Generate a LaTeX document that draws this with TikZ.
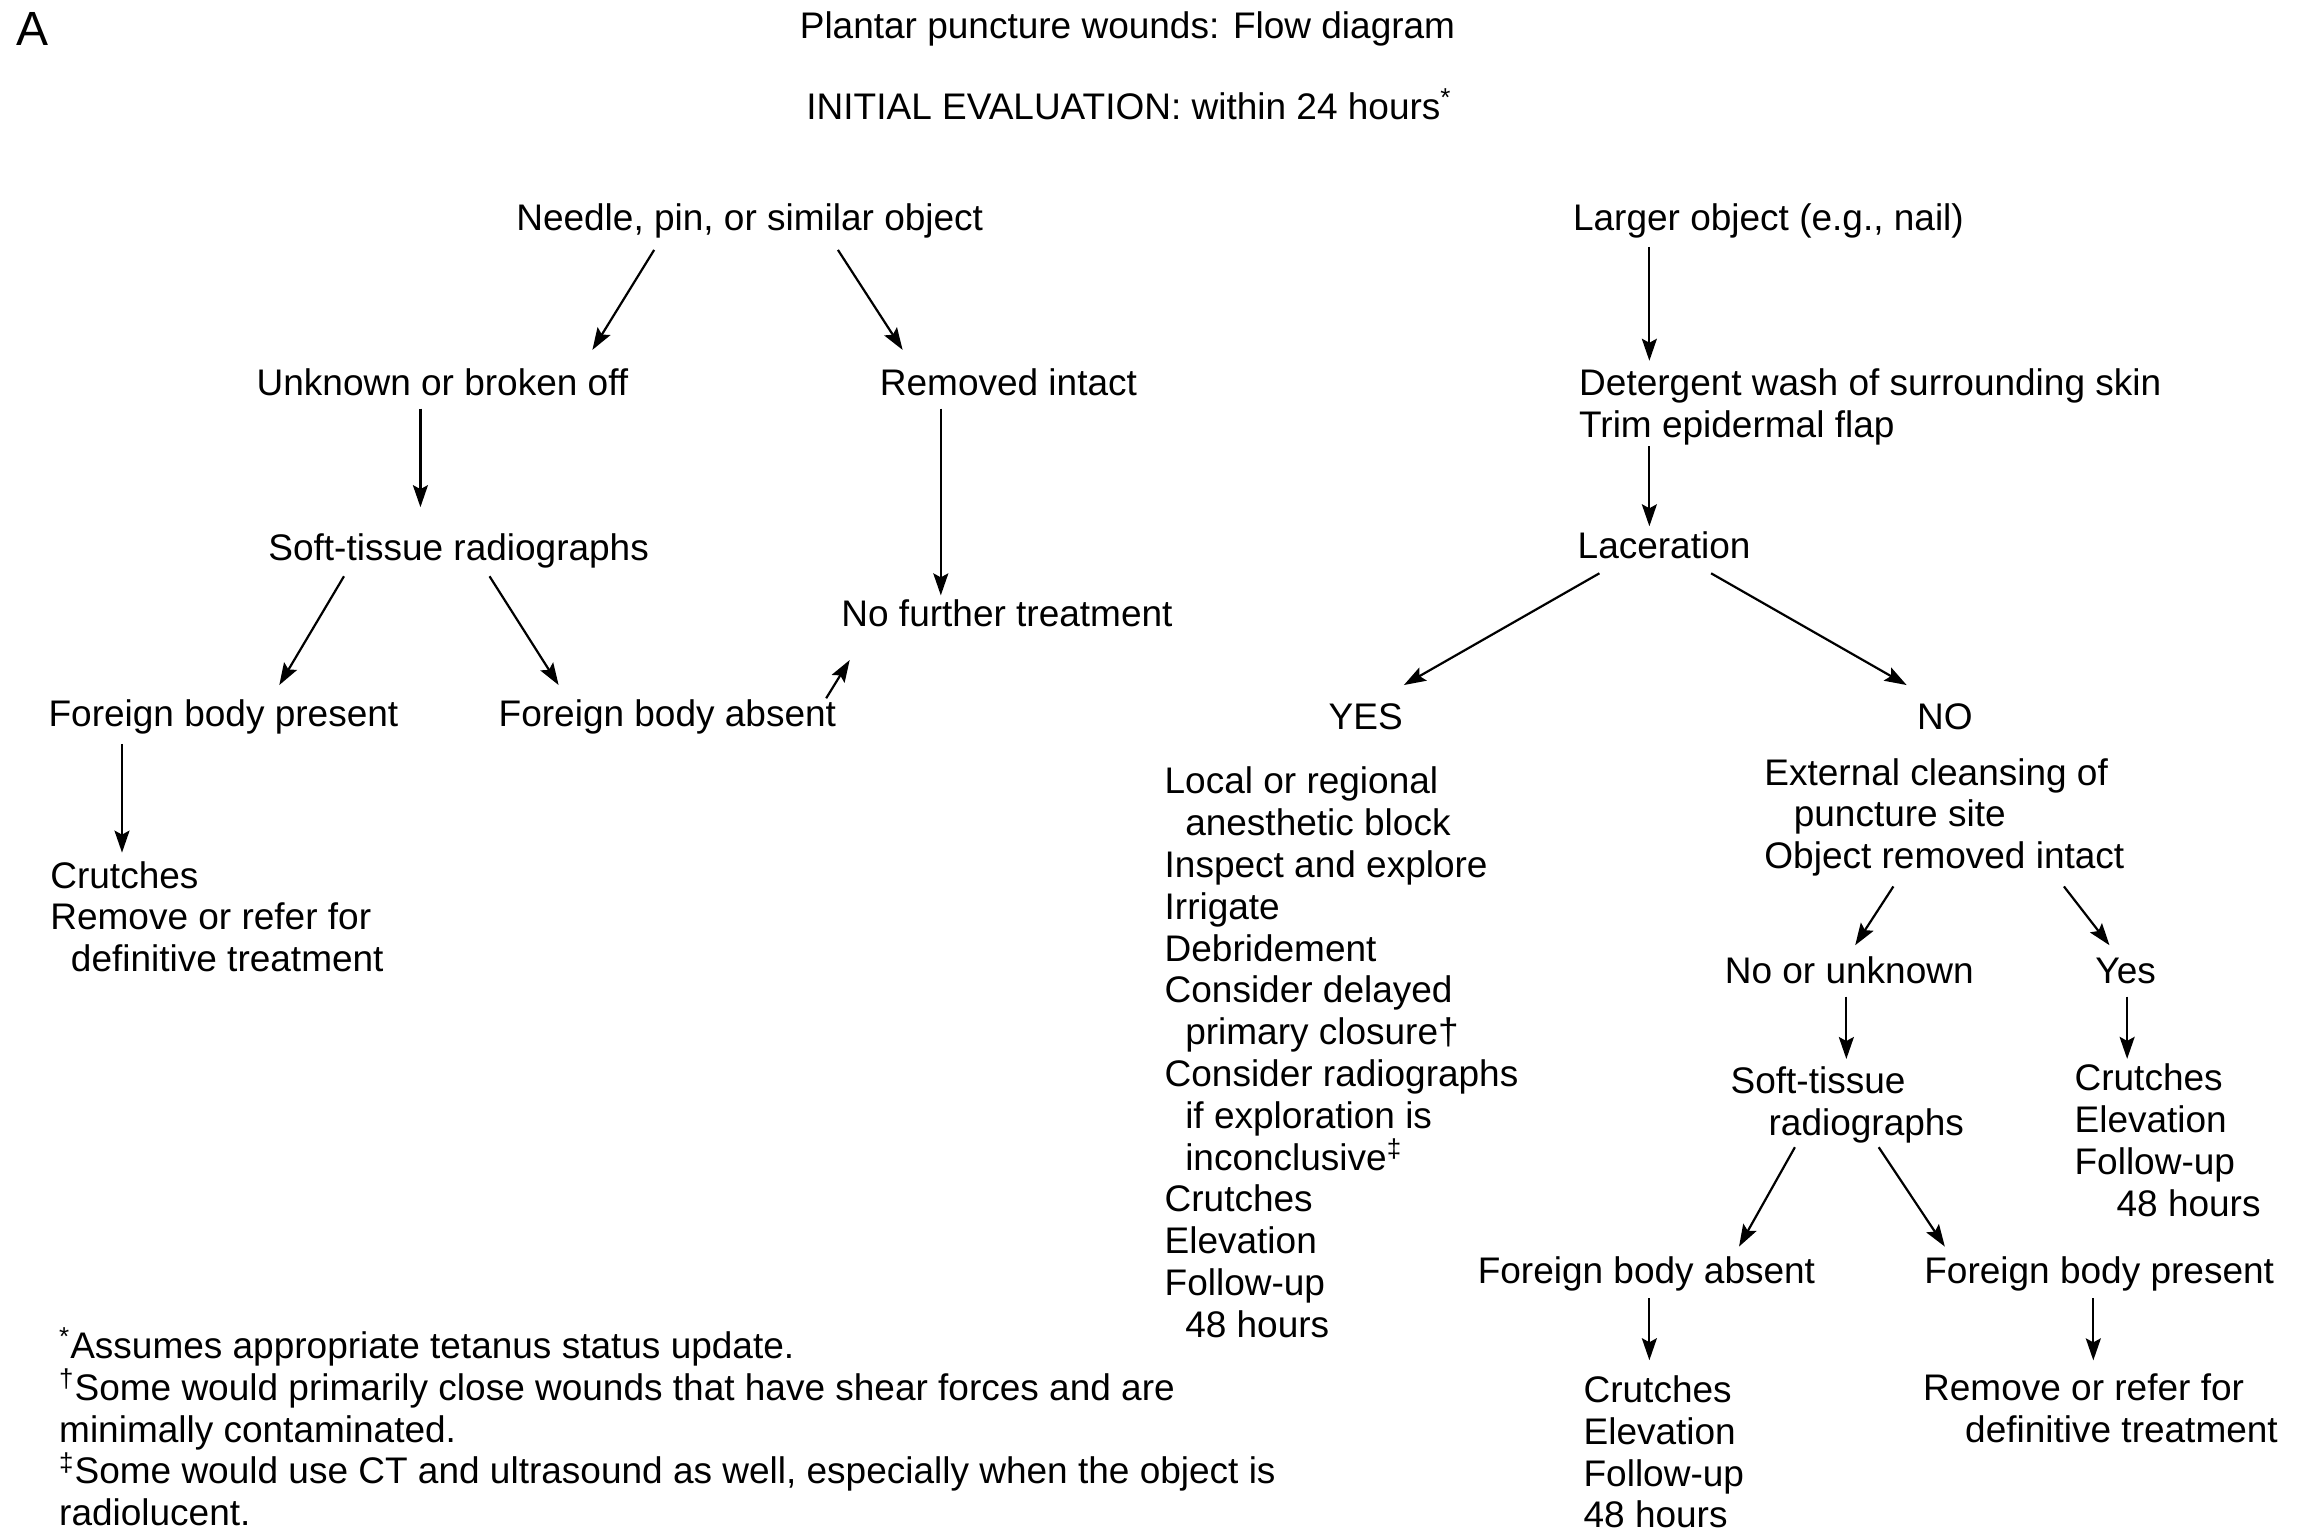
\documentclass[tikz,border=0pt]{standalone}
\usepackage{fontspec}
\setmainfont{Liberation Sans}
\usetikzlibrary{calc,arrows.meta}

\tikzset{
  testo/.style={inner sep=0pt, font=\fontsize{18.5}{20.9}\selectfont, align=left},
  freccia/.style={-{Stealth[length=11pt,width=7.5pt,inset=2pt]}, line width=1.1pt},
}
\newcommand{\rientro}{\hspace*{10.3pt}}

\begin{document}
\begin{tikzpicture}[x=0.735pt,y=-0.735pt]
\useasboundingbox (0,0) rectangle (1568,1045);

% --- Intestazione ---
\node[testo, anchor=base west, font=\fontsize{24}{26}\selectfont] (lettera) at (11,31) {A};
\node[testo, anchor=base] (titolo) at (767,26) {Plantar puncture wounds: Flow diagram};
\node[testo, anchor=base] (iniziale) at (768,81) {INITIAL EVALUATION: within 24 hours\textsuperscript{*}};

% --- Parte sinistra: ago, spillo ---
% (i blocchi su piu' righe sono ancorati alla linea di base dell'ultima riga)
\node[testo, anchor=base] (ago) at (510,157) {Needle, pin, or similar object};
\node[testo, anchor=base] (ignoto) at (301,269) {Unknown or broken off};
\node[testo, anchor=base] (rimosso) at (686,269) {Removed intact};
\node[testo, anchor=base] (radsx) at (312,381) {Soft-tissue radiographs};
\node[testo, anchor=base] (nessuno) at (685,426) {No further treatment};
\node[testo, anchor=base] (presentesx) at (152,494) {Foreign body present};
\node[testo, anchor=base] (assentesx) at (454,494) {Foreign body absent};
\node[testo, anchor=base west] (stampellesx) at (34,661) {Crutches\\Remove or refer for\\\rientro definitive treatment};

\draw[freccia] ($(ago.base)+(-65,13)$) -- ($(ignoto.base)+(102,-31)$);
\draw[freccia] ($(ago.base)+(60,13)$) -- ($(rimosso.base)+(-72,-31)$);
\draw[freccia] ($(ignoto.base)+(-15,9)$) -- ($(radsx.base)+(-26,-36)$);
\draw[freccia] ($(rimosso.base)+(-46,9)$) -- ($(nessuno.base)+(-45,-21)$);
\draw[freccia] ($(radsx.base)+(-78,11)$) -- ($(presentesx.base)+(38,-28)$);
\draw[freccia] ($(radsx.base)+(21,11)$) -- ($(assentesx.base)+(-74,-28)$);
\draw[freccia] ($(assentesx.base)+(108,-19)$) -- ($(nessuno.base)+(-107,23)$);
\draw[freccia] ($(presentesx.base)+(-69,12)$) -- ($(stampellesx.base west)+(49,-81)$);

% --- Parte destra: oggetto grande (chiodo) ---
\node[testo, anchor=base] (chiodo) at (1203,157) {Larger object (e.g., nail)};
\node[testo, anchor=base west] (lavaggio) at (1074,297.4) {Detergent wash of surrounding skin\\Trim epidermal flap};
\node[testo, anchor=base] (lacerazione) at (1132,380) {Laceration};
\node[testo, anchor=base] (si) at (929,496) {YES};
\node[testo, anchor=base] (no) at (1323,496) {NO};

\draw[freccia] ($(chiodo.base)+(-81,11)$) -- ($(lavaggio.base west)+(48,-52)$);
\draw[freccia] ($(lavaggio.base west)+(48,6)$) -- ($(lacerazione.base)+(-10,-22)$);
\draw[freccia] ($(lacerazione.base)+(-44,10)$) -- ($(si.base)+(26,-30)$);
\draw[freccia] ($(lacerazione.base)+(32,10)$) -- ($(no.base)+(-26,-30)$);

% Ramo YES
\node[testo, anchor=base west] (passi) at (792,909.7) {Local or regional\\
\rientro anesthetic block\\
Inspect and explore\\
Irrigate\\
Debridement\\
Consider delayed\\
\rientro primary closure†\\
Consider radiographs\\
\rientro if exploration is\\
\rientro inconclusive\textsuperscript{‡}\\
Crutches\\
Elevation\\
Follow-up\\
\rientro 48 hours};

% Ramo NO
\node[testo, anchor=base west] (pulizia) at (1200,591) {External cleansing of\\
\hspace*{14.7pt}puncture site\\
Object removed intact};
\node[testo, anchor=base] (noignoto) at (1258,669) {No or unknown};
\node[testo, anchor=base] (sidx) at (1446,669) {Yes};
\node[testo, anchor=base west] (raddx) at (1177,772.4) {Soft-tissue\\\hspace*{19pt}radiographs};
\node[testo, anchor=base west] (stampelledx) at (1411,827.3) {Crutches\\Elevation\\Follow-up\\\hspace*{21pt}48 hours};
\node[testo, anchor=base] (assentedx) at (1120,873) {Foreign body absent};
\node[testo, anchor=base] (presentedx) at (1428,873) {Foreign body present};
\node[testo, anchor=base west] (stampelleb) at (1077,1039.3) {Crutches\\Elevation\\Follow-up\\48 hours};
\node[testo, anchor=base west] (rimuovi) at (1308,981.4) {Remove or refer for\\\hspace*{21pt}definitive treatment};

\draw[freccia] ($(pulizia.base west)+(88,12)$) -- ($(noignoto.base)+(4,-26)$);
\draw[freccia] ($(pulizia.base west)+(204,12)$) -- ($(sidx.base)+(-11,-26)$);
\draw[freccia] ($(noignoto.base)+(-2,9)$) -- ($(raddx.base west)+(79,-52)$);
\draw[freccia] ($(sidx.base)+(1,9)$) -- ($(stampelledx.base west)+(36,-107)$);
\draw[freccia] ($(raddx.base west)+(44,8)$) -- ($(assentedx.base)+(63,-25)$);
\draw[freccia] ($(raddx.base west)+(101,8)$) -- ($(presentedx.base)+(-105,-25)$);
\draw[freccia] ($(assentedx.base)+(2,10)$) -- ($(stampelleb.base west)+(45,-114)$);
\draw[freccia] ($(presentedx.base)+(-4,10)$) -- ($(rimuovi.base west)+(116,-56)$);

% --- Note a pie' di pagina ---
\node[testo, anchor=base west] (note) at (40,1037.8) {\textsuperscript{*}Assumes appropriate tetanus status update.\\
\textsuperscript{†}Some would primarily close wounds that have shear forces and are\\
minimally contaminated.\\
\textsuperscript{‡}Some would use CT and ultrasound as well, especially when the object is\\
radiolucent.};

\end{tikzpicture}
\end{document}
